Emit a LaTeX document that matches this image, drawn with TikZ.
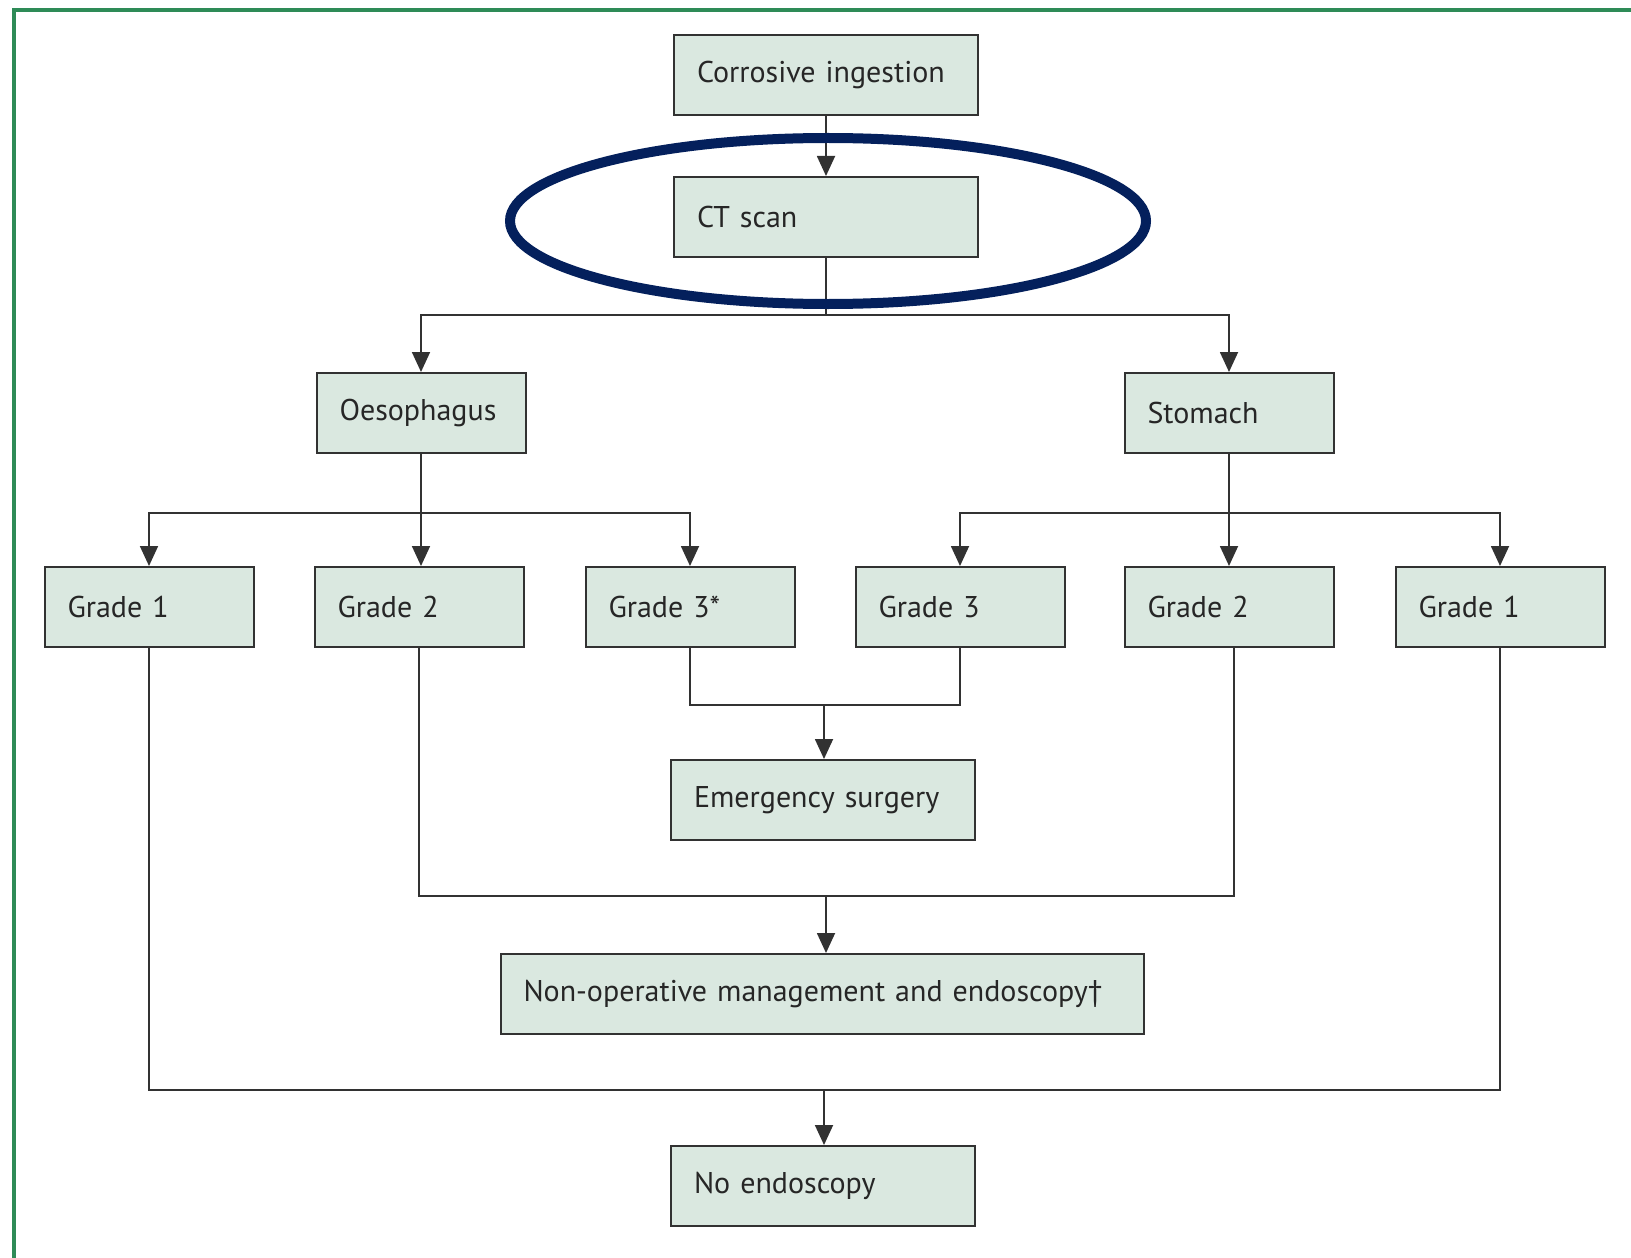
\documentclass[tikz,border=0pt]{standalone}
\usepackage{fontspec}
\setmainfont{PT Sans}
\usepackage{tikz}
\usetikzlibrary{arrows.meta}
\definecolor{boxfill}{RGB}{218,232,224}
\definecolor{boxline}{RGB}{50,50,50}
\definecolor{ringblue}{RGB}{4,32,92}
\definecolor{framegreen}{RGB}{46,139,87}

\tikzset{
  box/.style={draw=boxline,fill=boxfill,line width=1pt,minimum height=40pt,inner xsep=11.5pt,align=left,font=\fontsize{15}{17}\selectfont,text=black!85},
  wide/.style={box,text width=129pt},
  narrow/.style={box,text width=81.5pt},
  long/.style={box,text width=298.5pt},
  link/.style={draw=boxline,line width=0.9pt},
  arr/.style={link,-{Triangle[length=10pt,width=9pt]}}
}

\begin{document}
\begin{tikzpicture}[x=0.5pt,y=-0.5pt]
\useasboundingbox (0,0) rectangle (1631,1257);
\draw [framegreen,line width=1.6pt] (1650,10) -- (14,10) -- (14,1270);

\node [wide] (ingest) at (826,75) {Corrosive ingestion};
\node [wide] (ct) at (826,217) {CT scan};
\node [narrow] (oeso) at (421,413) {Oesophagus};
\node [narrow] (stom) at (1229,413) {Stomach};

\node [narrow] (g1l) at (149,607) {Grade 1};
\node [narrow] (g2l) at (419,607) {Grade 2};
\node [narrow] (g3s) at (690,607) {Grade 3*};
\node [narrow] (g3r) at (960,607) {Grade 3};
\node [narrow] (g2r) at (1229,607) {Grade 2};
\node [narrow] (g1r) at (1500,607) {Grade 1};

\node [wide] (emerg) at (823,800) {Emergency surgery};
\node [long] (nonop) at (822,994) {Non-operative management and endoscopy†};
\node [wide] (noendo) at (823,1186) {No endoscopy};

\coordinate (m1) at (824,705);
\coordinate (m2) at (826,896);
\coordinate (m3) at (824,1090);

\draw [arr] (ingest) -- (ct);
\draw [arr] (ct.south) -- ++(0,57) -| (oeso.north);
\draw [arr] (ct.south) -- ++(0,57) -| (stom.north);

\draw [arr] (oeso.south) -- ++(0,59) -| (g1l.north);
\draw [arr] (oeso.south) -- (g2l.north -| oeso.south);
\draw [arr] (oeso.south) -- ++(0,59) -| (g3s.north);
\draw [arr] (stom.south) -- ++(0,59) -| (g3r.north);
\draw [arr] (stom.south) -- (g2r.north -| stom.south);
\draw [arr] (stom.south) -- ++(0,59) -| (g1r.north);

\draw [link] (g3s.south) |- (m1) -| (g3r.south);
\draw [arr] (m1) -- (m1 |- emerg.north);

\draw [link] (g2l.south) |- (m2) -| ([xshift=2.5]g2r.south);
\draw [arr] (m2) -- (m2 |- nonop.north);

\draw [link] (g1l.south) |- (m3) -| (g1r.south);
\draw [arr] (m3) -- (m3 |- noendo.north);

\draw [ringblue,line width=5pt] (828,221) ellipse [x radius=159pt,y radius=41.5pt];
\end{tikzpicture}
\end{document}
